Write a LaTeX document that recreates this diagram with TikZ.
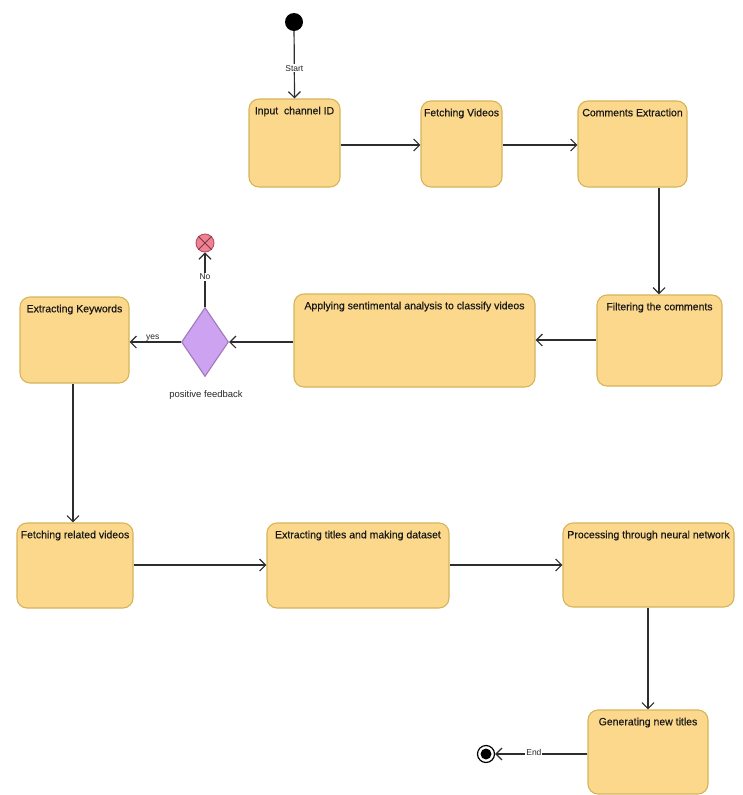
\documentclass[tikz,border=0pt]{standalone}
\usepackage{fontspec}
\setmainfont{Liberation Sans}
\newfontfamily\boxfont[FakeBold=0.5]{Liberation Sans}
\usetikzlibrary{arrows.meta,shapes.geometric}
\definecolor{boxfill}{RGB}{252,216,140}
\definecolor{boxdraw}{RGB}{214,180,90}
\definecolor{dfill}{RGB}{205,162,240}
\definecolor{ddraw}{RGB}{160,120,190}
\definecolor{xfill}{RGB}{240,128,148}
\definecolor{xdraw}{RGB}{180,80,90}
\definecolor{ln}{RGB}{45,45,45}
\tikzset{
  state/.style={rectangle, rounded corners=10pt, draw=boxdraw, fill=boxfill, line width=1.1pt, inner sep=0pt},
  ttl/.style={anchor=north, yshift=-8pt, font=\boxfont\fontsize{10.5}{12}\selectfont, text=black!90, inner sep=0pt},
  flow/.style={draw=ln, line width=1.2pt, -{Straight Barb[length=6pt,width=12pt,line width=1.2pt]}},
  small/.style={font=\fontsize{8.5}{10}\selectfont, text=black!85, inner sep=1pt},
}
\newcommand{\stbox}[6]{%
  \node[state, minimum width=#4pt, minimum height=#5pt,
        label={[ttl]north:#6}] (#1) at (#2pt,-#3pt) {};}
\begin{document}
\begin{tikzpicture}[x=1pt,y=1pt]
\useasboundingbox (0,0) rectangle (742,-795);
% states
\stbox{b1}{294.5}{143}{91}{88}{Input\ \ channel ID}
\stbox{b2}{461.5}{144}{81}{86}{Fetching Videos}
\stbox{b3}{632.5}{144}{109}{86}{Comments Extraction}
\stbox{b4}{659.5}{340.5}{125}{91}{Filtering the comments}
\stbox{b5}{414.5}{340.5}{241}{93}{Applying sentimental analysis to classify videos}
\stbox{b6}{74.5}{340}{109}{86}{Extracting Keywords}
\stbox{b7}{75}{565.5}{116}{85}{Fetching related videos}
\stbox{b8}{358}{565.5}{182}{85}{Extracting titles and making dataset}
\stbox{b9}{648.5}{565}{171}{84}{Processing through neural network}
\stbox{b10}{648}{752}{120}{84}{Generating new titles}
% start
\node[circle, fill=black, minimum size=18pt, inner sep=0pt] (start) at (294,-22) {};
% decision
\node[diamond, draw=ddraw, fill=dfill, line width=1.1pt, minimum width=47pt, minimum height=69pt, inner sep=0pt, aspect=0.68] (dec) at (205,-342) {};
\node[small, font=\fontsize{9.5}{11}\selectfont] (pf) at (206,-395) {positive feedback};
% final (No)
\node[circle, draw=xdraw, fill=xfill, minimum size=18pt, inner sep=0pt, line width=0.9pt] (xend) at (205,-243) {};
\draw[xdraw!70!black, line width=0.9pt] (xend.north east) -- (xend.south west) (xend.north west) -- (xend.south east);
% final End
\node[circle, draw=black, line width=1.2pt, minimum size=17pt, inner sep=0pt] (fin) at (486,-754) {};
\node[circle, fill=black, minimum size=11pt, inner sep=0pt] (fin2) at (fin) {};
% connectors
\draw[flow] (start) -- node[small, fill=white, pos=0.55] {Start} (b1.north);
\draw[flow] (b1.east |- 0,-145) -- (b2.west |- 0,-145);
\draw[flow] (b2.east |- 0,-145) -- (b3.west |- 0,-145);
\draw[flow] (b3.south -| 659,0) -- (b4.north -| 659,0);
\draw[flow] (b4.west |- 0,-340) -- (b5.east |- 0,-340);
\draw[flow] (b5.west |- 0,-342) -- (dec.east);
\draw[flow] (dec.west) -- node[small, above, pos=0.55, yshift=-1pt] {yes} (b6.east |- 0,-342);
\draw[flow] (dec.north) -- node[small, fill=white, pos=0.55] {No} (xend.south);
\draw[flow] (b6.south -| 73,0) -- (b7.north -| 73,0);
\draw[flow] (b7.east |- 0,-565) -- (b8.west |- 0,-565);
\draw[flow] (b8.east |- 0,-565) -- (b9.west |- 0,-565);
\draw[flow] (b9.south -| 648,0) -- (b10.north -| 648,0);
\draw[flow] (b10.west |- 0,-754) -- node[small, fill=white, pos=0.58, yshift=2pt] {End} (fin.east);
\end{tikzpicture}
\end{document}
